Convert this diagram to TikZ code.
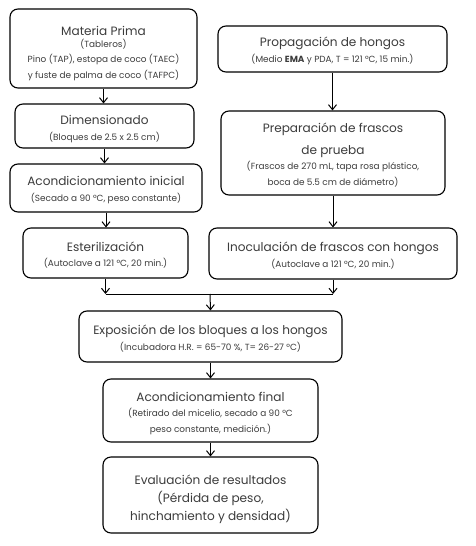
\documentclass[tikz,border=0pt]{standalone}
\usepackage{fontspec}
\setmainfont{Poppins}
\usetikzlibrary{arrows.meta,calc}
\definecolor{textgray}{RGB}{60,60,60}
\newcommand{\ttl}{\fontsize{12.1}{15.5}\selectfont}
\newcommand{\sbt}{\fontsize{8.9}{15.5}\selectfont}
\tikzset{
  box/.style={draw=black, rounded corners=8pt, line width=1.1pt, inner sep=0pt},
  txt/.style={align=center, inner sep=0pt, text=textgray, font=\sbt},
  conn/.style={line width=1pt, -{Straight Barb[length=5pt,width=8pt,line width=1pt]}},
  seg/.style={line width=1pt}
}
\begin{document}
\begin{tikzpicture}[x=1pt,y=-1pt]
\useasboundingbox[fill=white] (0,0) rectangle (475,546);
% boxes
\node[box, minimum width=187pt, minimum height=79pt] (mp) at (103.5,48.5) {};
\node[box, minimum width=179pt, minimum height=44pt] (dim) at (104.5,126) {};
\node[box, minimum width=192pt, minimum height=48pt] (ai) at (106,188) {};
\node[box, minimum width=165pt, minimum height=50pt] (est) at (105.5,253) {};
\node[box, minimum width=229pt, minimum height=46pt] (prop) at (332.5,49) {};
\node[box, minimum width=224pt, minimum height=84pt] (prep) at (333,153) {};
\node[box, minimum width=248pt, minimum height=51pt] (inoc) at (333,253.5) {};
\node[box, minimum width=263pt, minimum height=51pt] (expo) at (210.5,336.5) {};
\node[box, minimum width=215pt, minimum height=63pt] (af) at (210.5,410.5) {};
\node[box, minimum width=215pt, minimum height=76pt] (ev) at (210.5,495) {};
% texts
\node[txt] (mpT) at ([yshift=-5pt]mp.center)
  {{\ttl Materia Prima}\\[-3.5pt](Tableros)\\Pino (TAP), estopa de coco (TAEC)\\y fuste de palma de coco (TAFPC)};
\node[txt] (dimT) at ([yshift=-3pt]dim.center)
  {{\ttl Dimensionado}\\(Bloques de 2.5 x 2.5 cm)};
\node[txt] (aiT) at ([yshift=-2pt]ai.center)
  {{\ttl Acondicionamiento inicial}\\(Secado a 90 °C, peso constante)};
\node[txt] (estT) at ([yshift=-2pt]est.center)
  {{\ttl Esterilización}\\(Autoclave a 121 °C, 20 min.)};
\node[txt] (propT) at ([yshift=-2pt]prop.center)
  {{\ttl Propagación de hongos}\\(Medio \textbf{EMA} y PDA, T = 121 °C, 15 min.)};
\node[txt] (prepT) at ([yshift=-2pt]prep.center)
  {{\ttl Preparación de frascos}\\[6pt]{\ttl de prueba}\\(Frascos de 270 mL, tapa rosa plástico,\\boca de 5.5 cm de diámetro)};
\node[txt] (inocT) at ([yshift=-2pt]inoc.center)
  {{\ttl Inoculación de frascos con hongos}\\(Autoclave a 121 °C, 20 min.)};
\node[txt] (expoT) at ([yshift=-2pt]expo.center)
  {{\ttl Exposición de los bloques a los hongos}\\(Incubadora H.R. = 65-70 \%, T= 26-27 °C)};
\node[txt] (afT) at ([yshift=-3pt]af.center)
  {{\ttl Acondicionamiento final}\\(Retirado del micelio, secado a 90 °C\\peso constante, medición.)};
\node[txt] (evT) at ([yshift=-4pt]ev.center)
  {{\ttl Evaluación de resultados}\\[2.5pt]{\ttl (Pérdida de peso,}\\[2.5pt]{\ttl hinchamiento y densidad)}};
% connectors
\coordinate (j) at (210,294);
\draw[conn] (mp.south) -- (mp.south |- dim.north);
\draw[conn] (dim.south) -- (dim.south |- ai.north);
\draw[conn] (ai.south) -- (ai.south |- est.north);
\draw[conn] (prop.south) -- (prop.south |- prep.north);
\draw[conn] (prep.south) -- (prep.south |- inoc.north);
\draw[conn] (est.south) -- (est.south |- j);
\draw[conn] (inoc.south) -- (inoc.south |- j);
\draw[seg] (est.south |- j) -- (inoc.south |- j);
\draw[conn] (j) -- (expo.north);
\draw[conn] (expo.south) -- (af.north);
\draw[conn] (af.south) -- (ev.north);
\end{tikzpicture}
\end{document}
